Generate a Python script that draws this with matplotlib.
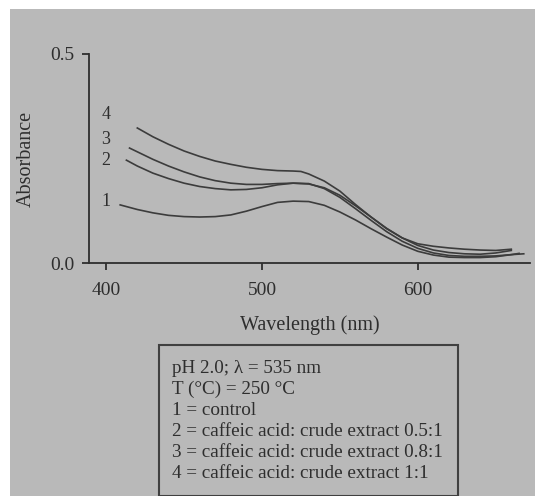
import numpy as np
import matplotlib.pyplot as plt
from matplotlib.patches import Rectangle


# --- data ---
wl_1 = [409, 420, 430, 440, 450, 460, 470, 480, 490, 500, 510, 520, 530, 540, 550,
        560, 570, 580, 590, 600, 610, 620, 630, 640, 650, 660, 665]
abs_1 = [0.139, 0.128, 0.120, 0.114, 0.111, 0.110, 0.111, 0.115, 0.124, 0.135, 0.145,
         0.148, 0.147, 0.138, 0.122, 0.103, 0.082, 0.062, 0.043, 0.028, 0.019, 0.014,
         0.013, 0.013, 0.015, 0.020, 0.023]

wl_2 = [413, 420, 430, 440, 450, 460, 470, 480, 490, 500, 510, 520, 530, 540, 550,
        560, 570, 580, 590, 600, 610, 620, 630, 640, 650, 660, 668]
abs_2 = [0.246, 0.232, 0.215, 0.202, 0.191, 0.183, 0.178, 0.175, 0.176, 0.180, 0.187,
         0.191, 0.190, 0.178, 0.157, 0.130, 0.102, 0.075, 0.052, 0.035, 0.024, 0.018,
         0.016, 0.016, 0.017, 0.020, 0.022]

wl_3 = [415, 420, 430, 440, 450, 460, 470, 480, 490, 500, 510, 520, 530, 540, 550,
        560, 570, 580, 590, 600, 610, 620, 630, 640, 650, 660]
abs_3 = [0.275, 0.266, 0.248, 0.232, 0.218, 0.206, 0.197, 0.191, 0.188, 0.188, 0.190,
         0.191, 0.189, 0.180, 0.162, 0.137, 0.110, 0.083, 0.060, 0.042, 0.031, 0.025,
         0.022, 0.021, 0.024, 0.030]

wl_4 = [420, 430, 440, 450, 460, 470, 480, 490, 500, 510, 520, 525, 530, 540, 550,
        560, 570, 580, 590, 600, 610, 620, 630, 640, 650, 660]
abs_4 = [0.323, 0.302, 0.284, 0.268, 0.255, 0.244, 0.236, 0.229, 0.224, 0.221, 0.220,
         0.219, 0.213, 0.196, 0.172, 0.140, 0.110, 0.082, 0.060, 0.046, 0.040, 0.036,
         0.033, 0.031, 0.030, 0.033]

curve_labels = ['1', '2', '3', '4']
label_y = [0.148, 0.245, 0.295, 0.355]

legend_lines = [
    'pH 2.0; \u03bb = 535 nm',
    'T (\u00b0C) = 250 \u00b0C',
    '1 = control',
    '2 = caffeic acid: crude extract 0.5:1',
    '3 = caffeic acid: crude extract 0.8:1',
    '4 = caffeic acid: crude extract 1:1',
]

# --- styling ---
plt.rcParams['font.family'] = ['Liberation Serif', 'DejaVu Serif']
bg = '#b9b9b9'
ink = '#2e2e2e'
line_col = '#3c3c3c'

W, H = 535, 496
fig = plt.figure(figsize=(W / 100, H / 100), dpi=100)
fig.patch.set_facecolor('white')
fig.patches.append(Rectangle((10 / W, 0), 1 - 10 / W, 1 - 9 / H,
                             transform=fig.transFigure, facecolor=bg,
                             edgecolor='none', zorder=-10))

ax = fig.add_axes([89 / W, (H - 263) / H, (530 - 89) / W, (263 - 54) / H])
ax.set_facecolor('none')

for wl, ab in [(wl_1, abs_1), (wl_2, abs_2), (wl_3, abs_3), (wl_4, abs_4)]:
    ax.plot(wl, ab, color=line_col, lw=1.2)

for lab, y in zip(curve_labels, label_y):
    ax.text(397, y, lab, fontsize=13, color=ink, ha='left', va='center')

ax.set_xlim(389, 672)
ax.set_ylim(0, 0.5)
ax.set_xticks([400, 500, 600])
ax.set_yticks([0.0, 0.5])
ax.set_yticklabels(['0.0', '0.5'])

for side in ['top', 'right']:
    ax.spines[side].set_visible(False)
for side in ['left', 'bottom']:
    ax.spines[side].set_color(ink)
    ax.spines[side].set_linewidth(1.3)

ax.tick_params(axis='both', colors=ink, labelcolor=ink, labelsize=14,
               length=4.7, width=1.3, direction='out')
ax.tick_params(axis='x', pad=9)
ax.tick_params(axis='y', pad=6)

ax.set_xlabel('Wavelength (nm)', fontsize=14.5, color=ink, labelpad=12)
ax.set_ylabel('Absorbance', fontsize=14.5, color=ink, labelpad=10)

# legend box drawn as text block
fig.patches.append(Rectangle((159 / W, 0), (458 - 159) / W, (H - 345) / H,
                             transform=fig.transFigure, facecolor='none',
                             edgecolor='#404040', lw=1.5, zorder=5))
fig.text(172 / W, (H - 360) / H, '\n'.join(legend_lines), fontsize=13.8,
         color=ink, ha='left', va='top', linespacing=1.3)

fig.savefig('out.png', dpi=100, facecolor='white')
